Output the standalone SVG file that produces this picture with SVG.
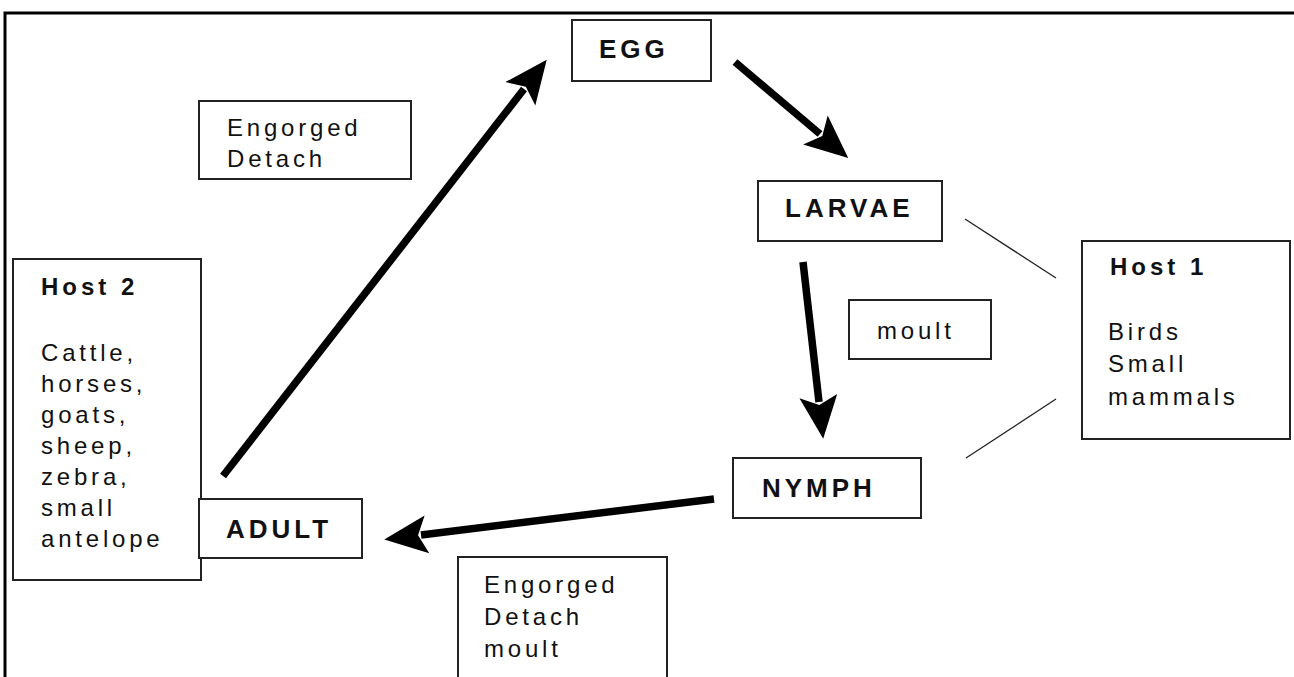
<svg xmlns="http://www.w3.org/2000/svg" width="1294" height="677" viewBox="0 0 1294 677">
<style>
.box{fill:#fff;stroke:#222;stroke-width:2}
.t{font-family:"Liberation Sans",Arial,sans-serif;font-size:24px;letter-spacing:3.8px;fill:#111}
.b{font-family:"Liberation Sans",Arial,sans-serif;font-size:26px;font-weight:bold;letter-spacing:4px;fill:#111}
.h{font-family:"Liberation Sans",Arial,sans-serif;font-size:24px;font-weight:bold;letter-spacing:4px;fill:#111}
.arr{stroke:#000;stroke-width:7.5;fill:none;marker-end:url(#ah)}
.thin{stroke:#222;stroke-width:1.3;fill:none}
</style>
<defs>
<marker id="ah" markerUnits="userSpaceOnUse" markerWidth="46" markerHeight="42" viewBox="-8 -21 46 42" refX="0" refY="0" orient="auto">
<path d="M-6,-19 L37,0 L-6,19 L3,0 z" fill="#000"/>
</marker>
</defs>
<rect width="1294" height="677" fill="#fff"/>
<g id="frame"><path d="M5,677 L5,13 L1294,13" fill="none" stroke="#000" stroke-width="3"/></g>
<g id="connectors">
<line class="arr" x1="223" y1="476" x2="524" y2="89"/>
<line class="arr" x1="735" y1="62" x2="820" y2="134"/>
<line class="arr" x1="803" y1="262" x2="819" y2="402"/>
<line class="arr" x1="714" y1="499" x2="421" y2="535"/>
<line class="thin" x1="965" y1="219" x2="1056" y2="278"/>
<line class="thin" x1="1056" y1="399" x2="966" y2="458"/>
</g>
<g id="egg"><rect class="box" x="572" y="20" width="139" height="61"/><text class="b" x="599" y="58">EGG</text></g>
<g id="engorged1"><rect class="box" x="199" y="101" width="212" height="78"/><text class="t" x="227" y="136">Engorged</text><text class="t" x="227" y="167">Detach</text></g>
<g id="larvae"><rect class="box" x="758" y="181" width="184" height="60"/><text class="b" x="785" y="217">LARVAE</text></g>
<g id="host1"><rect class="box" x="1082" y="241" width="208" height="198"/><text class="h" x="1110" y="275">Host 1</text><text class="t" x="1108" y="340">Birds</text><text class="t" x="1108" y="372">Small</text><text class="t" x="1108" y="405">mammals</text></g>
<g id="moult"><rect class="box" x="849" y="300" width="142" height="59"/><text class="t" x="877" y="339">moult</text></g>
<g id="nymph"><rect class="box" x="733" y="458" width="188" height="60"/><text class="b" x="762" y="497">NYMPH</text></g>
<g id="host2"><rect class="box" x="13" y="259" width="188" height="321"/><text class="h" x="41" y="295">Host 2</text><text class="t" x="41" y="361">Cattle,</text><text class="t" x="41" y="392">horses,</text><text class="t" x="41" y="423">goats,</text><text class="t" x="41" y="454">sheep,</text><text class="t" x="41" y="485">zebra,</text><text class="t" x="41" y="516">small</text><text class="t" x="41" y="547">antelope</text></g>
<g id="adult"><rect class="box" x="199" y="499" width="163" height="59"/><text class="b" x="226" y="538">ADULT</text></g>
<g id="engorged2"><rect class="box" x="458" y="557" width="209" height="130"/><text class="t" x="484" y="593">Engorged</text><text class="t" x="484" y="625">Detach</text><text class="t" x="484" y="657">moult</text></g>
</svg>
